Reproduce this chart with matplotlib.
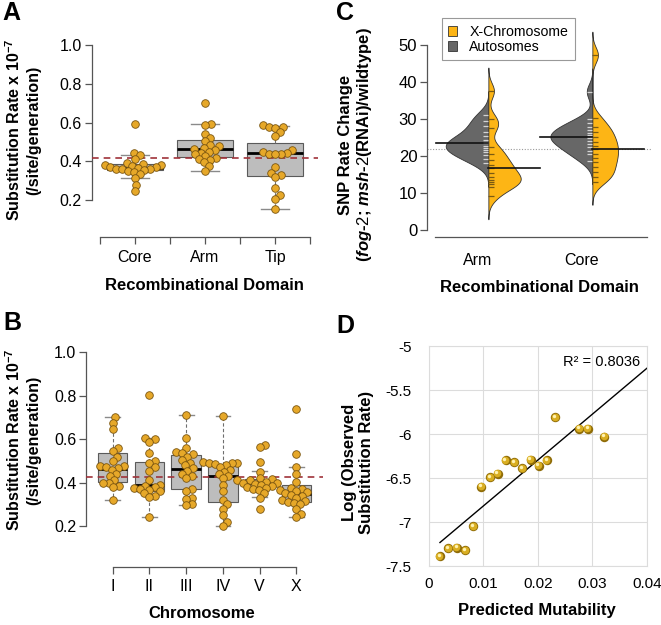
import numpy as np
import matplotlib
matplotlib.use('Agg')
import matplotlib.pyplot as plt
from matplotlib.patches import Patch
from matplotlib.transforms import offset_copy

plt.rcParams['font.family'] = ['Liberation Sans', 'DejaVu Sans']
plt.rcParams['mathtext.fontset'] = 'custom'
plt.rcParams['mathtext.rm'] = 'Liberation Sans'
plt.rcParams['mathtext.bf'] = 'Liberation Sans:bold'
plt.rcParams['mathtext.it'] = 'Liberation Sans:bold:italic'

# ---- Panel A: rate per recombinational domain
domains = ['Core', 'Arm', 'Tip']
core_rates = [0.59, 0.445, 0.43, 0.41, 0.39, 0.385, 0.38, 0.38, 0.375, 0.37, 0.37,
              0.365, 0.36, 0.36, 0.36, 0.355, 0.35, 0.345, 0.335, 0.315, 0.275, 0.245]
arm_rates = [0.70, 0.59, 0.585, 0.54, 0.52, 0.505, 0.485, 0.48, 0.47, 0.465, 0.46,
             0.45, 0.445, 0.435, 0.425, 0.415, 0.41, 0.405, 0.395, 0.375, 0.35]
tip_rates = [0.585, 0.575, 0.575, 0.57, 0.55, 0.53, 0.458, 0.448, 0.442, 0.44,
             0.44, 0.44, 0.37, 0.34, 0.328, 0.318, 0.26, 0.225, 0.205, 0.152]
dom_q1 = [0.355, 0.42, 0.322]
dom_med = [0.365, 0.465, 0.441]
dom_q3 = [0.386, 0.51, 0.496]
dom_lo = [0.315, 0.35, 0.152]
dom_hi = [0.43, 0.59, 0.584]
mean_rate_a = 0.418

# ---- Panel B: rate per chromosome
chroms = ['I', 'II', 'III', 'IV', 'V', 'X']
chr_I = [0.70, 0.675, 0.645, 0.56, 0.545, 0.52, 0.50, 0.478, 0.475, 0.47, 0.465,
         0.46, 0.44, 0.43, 0.41, 0.40, 0.40, 0.385, 0.38, 0.32]
chr_II = [0.805, 0.605, 0.60, 0.585, 0.535, 0.50, 0.49, 0.47, 0.455, 0.41, 0.39,
          0.385, 0.38, 0.375, 0.37, 0.365, 0.36, 0.35, 0.34, 0.335, 0.24]
chr_III = [0.71, 0.605, 0.56, 0.54, 0.535, 0.53, 0.52, 0.505, 0.49, 0.48, 0.465,
           0.455, 0.44, 0.43, 0.42, 0.37, 0.36, 0.33, 0.325, 0.30, 0.295]
chr_IV = [0.705, 0.495, 0.49, 0.49, 0.488, 0.485, 0.48, 0.47, 0.46, 0.45, 0.44,
          0.43, 0.42, 0.39, 0.36, 0.32, 0.30, 0.28, 0.25, 0.22, 0.20]
chr_V = [0.575, 0.565, 0.495, 0.45, 0.42, 0.415, 0.41, 0.41, 0.405, 0.40, 0.40,
         0.395, 0.39, 0.385, 0.38, 0.375, 0.37, 0.365, 0.35, 0.33, 0.28]
chr_X = [0.74, 0.53, 0.47, 0.44, 0.405, 0.375, 0.37, 0.365, 0.36, 0.355, 0.35,
         0.345, 0.34, 0.33, 0.32, 0.315, 0.31, 0.305, 0.30, 0.28, 0.255, 0.24]
chr_q1 = [0.404, 0.362, 0.37, 0.31, 0.37, 0.31]
chr_med = [0.462, 0.39, 0.461, 0.43, 0.40, 0.346]
chr_q3 = [0.535, 0.493, 0.526, 0.479, 0.415, 0.387]
chr_lo = [0.32, 0.24, 0.297, 0.20, 0.332, 0.24]
chr_hi = [0.70, 0.604, 0.71, 0.705, 0.455, 0.47]
mean_rate_b = 0.426

# ---- Panel C: SNP rate change, split violins
c_domains = ['Arm', 'Core']
arm_auto = [31.2, 29.5, 28.0, 26.5, 25.4, 24.3, 23.8, 23.4, 22.8, 22.2, 21.6, 21.0, 20.2, 19.3, 18.0]
arm_xchr = [37.6, 29.9, 27.7, 22.3, 20.5, 18.9, 17.5, 16.7, 15.3, 14.4, 13.5, 13.0, 12.4, 11.7, 9.2]
core_auto = [37.4, 29.9, 28.8, 27.8, 27.0, 26.3, 25.6, 25.2, 24.8, 24.1, 23.2, 22.5, 21.4, 20.5, 18.7]
core_xchr = [47.3, 30.2, 27.8, 26.6, 25.2, 23.9, 22.7, 21.9, 20.5, 19.4, 18.5, 16.9, 15.8, 14.4, 13.1]
c_ref = 21.8

# ---- Panel D: predicted mutability vs observed rate
mutability = [0.0021, 0.0036, 0.0052, 0.0067, 0.0082, 0.0097, 0.0113, 0.0127, 0.0141,
              0.0157, 0.0172, 0.0187, 0.0202, 0.0217, 0.0232, 0.0276, 0.0292, 0.0322]
log_rate = [-7.39, -7.30, -7.29, -7.32, -7.05, -6.60, -6.49, -6.45, -6.30,
            -6.32, -6.39, -6.29, -6.36, -6.30, -5.81, -5.94, -5.94, -6.03]

W, H = 661, 625
fig = plt.figure(figsize=(W / 100, H / 100), dpi=100)


def add_ax(x0, y0, x1, y1):
    return fig.add_axes([x0 / W, 1 - y1 / H, (x1 - x0) / W, (y1 - y0) / H])


def ftext(x, y, s, **kw):
    return fig.text(x / W, 1 - y / H, s, **kw)


dot_face = '#E6A829'
dot_edge = '#7a5510'
box_face = '#bdbdbd'
axis_col = '#555555'
orange = '#FDB515'
dgray = '#676767'


def swarm_x(ax, xc, vals, d_px):
    tr = ax.transData
    x0 = tr.transform((xc, 0))[0]
    ypx = np.array([tr.transform((xc, v))[1] for v in vals])
    order = np.argsort(vals)
    px_, py_ = [], []
    out = np.zeros(len(vals))
    for i in order:
        y = ypx[i]
        cands = [0.0]
        for a, b in zip(px_, py_):
            dy = abs(b - y)
            if dy < d_px:
                dx = np.sqrt(d_px ** 2 - dy ** 2)
                cands += [a + dx, a - dx]
        cands.sort(key=abs)
        pick = cands[-1]
        for c in cands:
            if all((c - a) ** 2 + (y - b) ** 2 >= d_px ** 2 - 1e-6 for a, b in zip(px_, py_)):
                pick = c
                break
        px_.append(pick)
        py_.append(y)
        out[i] = pick
    inv = tr.inverted()
    return [inv.transform((x0 + c, ypx[i]))[0] for i, c in enumerate(out)]


def box_panel(ax, groups, q1, med, q3, lo, hi, mean_line):
    stats = [dict(med=m, q1=a, q3=b, whislo=l, whishi=h, fliers=[])
             for m, a, b, l, h in zip(med, q1, q3, lo, hi)]
    pos = np.arange(1, len(groups) + 1)
    ax.bxp(stats, positions=pos, widths=0.8, patch_artist=True, showfliers=False,
           manage_ticks=False,
           boxprops=dict(facecolor=box_face, edgecolor='#5a5a5a', linewidth=0.8),
           medianprops=dict(color='black', linewidth=2.0),
           whiskerprops=dict(color='#6e6e6e', linestyle=(0, (3, 2)), linewidth=0.8),
           capprops=dict(color='#8a8a8a', linewidth=1.0))
    ax.axhline(mean_line, color='#A0323A', linestyle=(0, (4, 3)), linewidth=1.2, zorder=3)
    for p, g in zip(pos, groups):
        xs = swarm_x(ax, p, g, 6.0)
        ax.scatter(xs, g, s=30, facecolor=dot_face, edgecolor=dot_edge, linewidth=0.6, zorder=4)
    ax.spines['top'].set_visible(False)
    ax.spines['right'].set_visible(False)
    for sp in ['left', 'bottom']:
        ax.spines[sp].set_color(axis_col)
        ax.spines[sp].set_linewidth(0.9)
    ax.spines['left'].set_bounds(0.2, 1.0)
    ax.set_yticks([0.2, 0.4, 0.6, 0.8, 1.0])
    ax.set_yticklabels(['0.2', '0.4', '0.6', '0.8', '1.0'])
    ax.tick_params(axis='y', length=5, width=0.9, color=axis_col, pad=2, labelsize=11.5)
    ax.patch.set_visible(False)


# ---------------- A
axA = add_ax(91.6, 37.3, 318.4, 215.5)
axA.set_xlim(0.38, 3.62)
axA.set_ylim(0.12, 1.04)
box_panel(axA, [core_rates, arm_rates, tip_rates], dom_q1, dom_med, dom_q3, dom_lo, dom_hi, mean_rate_a)
axA.spines['bottom'].set_position(('outward', 15.5))
axA.spines['bottom'].set_bounds(0.5, 3.5)
axA.set_xticks(np.arange(0.5, 3.51, 0.5))
axA.set_xticklabels(['', domains[0], '', domains[1], '', domains[2], ''])
axA.tick_params(axis='x', length=5, width=0.9, color=axis_col, pad=4, labelsize=11.5)

# ---------------- B
axB = add_ax(86, 343.6, 323.4, 543.4)
axB.set_xlim(0.27, 6.74)
axB.set_ylim(0.12, 1.04)
box_panel(axB, [chr_I, chr_II, chr_III, chr_IV, chr_V, chr_X], chr_q1, chr_med, chr_q3, chr_lo, chr_hi, mean_rate_b)
axB.spines['bottom'].set_position(('outward', 16.8))
axB.spines['bottom'].set_bounds(1, 6)
axB.set_xticks(np.arange(1, 7))
axB.set_xticklabels(chroms)
axB.tick_params(axis='x', length=5, width=0.9, color=axis_col, pad=4, labelsize=11.5)

ylab_ab = 'Substitution Rate x 10$^{\\mathbf{-7}}$\n(/site/generation)'
ftext(22.5, 130, ylab_ab, rotation=90, ha='center', va='center', fontsize=11.5,
      fontweight='bold', multialignment='center', linespacing=1.25)
ftext(22.5, 440, ylab_ab, rotation=90, ha='center', va='center', fontsize=11.5,
      fontweight='bold', multialignment='center', linespacing=1.25)
ftext(204, 285, 'Recombinational Domain', ha='center', va='center', fontsize=12, fontweight='bold')
ftext(201.7, 613, 'Chromosome', ha='center', va='center', fontsize=12, fontweight='bold')

# ---------------- C
axC = add_ax(427, 19.1, 650.6, 237.4)
axC.set_xlim(0.51, 2.66)
axC.set_ylim(-2, 57)
bw = 2.1
shift = 0.1
halves = [(1 + shift, arm_auto, -1, dgray), (1 + shift, arm_xchr, 1, orange),
          (2 + shift, core_auto, -1, dgray), (2 + shift, core_xchr, 1, orange)]
dens_list = []
for cx, vals, side, col in halves:
    v = np.array(vals)
    ys = np.linspace(v.min() - 3 * bw, v.max() + 3 * bw, 400)
    d = np.exp(-0.5 * ((ys[:, None] - v[None, :]) / bw) ** 2).sum(1) / (len(v) * bw * np.sqrt(2 * np.pi))
    dens_list.append((ys, d))
scale = 0.41 / max(d.max() for _, d in dens_list)
axC.axhline(c_ref, color='#9a9a9a', linestyle=(0, (1, 1.5)), linewidth=0.8, zorder=0.5)
for (cx, vals, side, col), (ys, d) in zip(halves, dens_list):
    w = d * scale
    if side < 0:
        axC.fill_betweenx(ys, cx - w, cx, facecolor=col, edgecolor='#333333', linewidth=0.6, zorder=2)
        axC.hlines(vals, cx - 0.055, cx, color='#d4d4d4', linewidth=0.9, zorder=3)
        axC.plot([cx - 0.5, cx], [np.median(vals)] * 2, color='#111111', linewidth=1.2, zorder=4)
    else:
        axC.fill_betweenx(ys, cx, cx + w, facecolor=col, edgecolor='#333333', linewidth=0.6, zorder=2)
        axC.hlines(vals, cx, cx + 0.05, color='#7a5a12', linewidth=0.9, zorder=3)
        axC.plot([cx, cx + 0.5], [np.median(vals)] * 2, color='#111111', linewidth=1.2, zorder=4)
axC.spines['top'].set_visible(False)
axC.spines['right'].set_visible(False)
for sp in ['left', 'bottom']:
    axC.spines[sp].set_color(axis_col)
    axC.spines[sp].set_linewidth(0.9)
axC.spines['left'].set_bounds(0, 50)
axC.spines['bottom'].set_bounds(0.59, 2.63)
axC.set_yticks(np.arange(0, 51, 10))
axC.tick_params(axis='y', length=5, width=0.9, color=axis_col, pad=2, labelsize=12)
axC.set_xticks([1, 2])
axC.set_xticklabels(c_domains)
axC.tick_params(axis='x', length=0, pad=11, labelsize=11.5)
axC.patch.set_visible(False)
leg = axC.legend(handles=[Patch(facecolor=orange, edgecolor='#333333', linewidth=0.6, label='X-Chromosome'),
                          Patch(facecolor=dgray, edgecolor='#333333', linewidth=0.6, label='Autosomes')],
                 loc='upper left', bbox_to_anchor=(441.7 / W, 1 - 18.3 / H), bbox_transform=fig.transFigure,
                 borderaxespad=0, fontsize=10.2, frameon=True, fancybox=False, framealpha=1,
                 edgecolor='#999999', handlelength=0.6, handleheight=0.7, handletextpad=0.9,
                 labelspacing=0.1, borderpad=0.45)
leg.get_frame().set_linewidth(0.8)

ylab_c = 'SNP Rate Change\n($\\mathit{fog}$-$\\mathit{2}$; $\\mathit{msh}$-$\\mathit{2}$(RNAi)/wildtype)'
ftext(356, 145, ylab_c, rotation=90, ha='center', va='center', fontsize=12,
      fontweight='bold', multialignment='center', linespacing=1.2)
ftext(539, 287, 'Recombinational Domain', ha='center', va='center', fontsize=12, fontweight='bold')

# ---------------- D
axD = add_ax(428.5, 346, 647, 566)
axD.set_xlim(0, 0.04)
axD.set_ylim(-7.5, -5)
axD.set_xticks([0, 0.01, 0.02, 0.03, 0.04])
axD.set_xticklabels(['0', '0.01', '0.02', '0.03', '0.04'])
axD.set_yticks([-7.5, -7, -6.5, -6, -5.5, -5])
axD.set_yticklabels(['-7.5', '-7', '-6.5', '-6', '-5.5', '-5'])
axD.tick_params(length=0, labelsize=11)
axD.tick_params(axis='y', pad=12)
axD.tick_params(axis='x', pad=8)
axD.set_axisbelow(True)
axD.grid(color='#dcdcdc', linewidth=0.8)
for sp in axD.spines.values():
    sp.set_color('#dcdcdc')
    sp.set_linewidth(0.8)
mx = np.array(mutability)
ly = np.array(log_rate)
slope, icpt = np.polyfit(mx, ly, 1)
xl = np.array([mx.min(), 0.04])
axD.plot(xl, slope * xl + icpt, color='black', linewidth=1.0, zorder=2)
axD.scatter(mx, ly, s=46, color='#8f6c08', linewidth=0, zorder=3)
axD.scatter(mx, ly, s=30, color='#D9AE22', linewidth=0, zorder=4,
            transform=offset_copy(axD.transData, fig=fig, x=-0.4, y=0.4, units='points'))
axD.scatter(mx, ly, s=6, color='#FFF2B0', linewidth=0, zorder=5,
            transform=offset_copy(axD.transData, fig=fig, x=-1.0, y=1.0, units='points'))
axD.text(0.0387, -5.18, 'R² = 0.8036', ha='right', va='center', fontsize=10.5)
ftext(358, 462, 'Log (Observed\nSubstitution Rate)', rotation=90, ha='center', va='center',
      fontsize=12, fontweight='bold', multialignment='center', linespacing=1.2)
ftext(537, 610, 'Predicted Mutability', ha='center', va='center', fontsize=12, fontweight='bold')

# panel letters
for lx, lyy, s in [(2, 0.5, 'A'), (3, 310.5, 'B'), (336, 0.5, 'C'), (336, 313.5, 'D')]:
    ftext(lx, lyy, s, ha='left', va='top', fontsize=18, fontweight='bold')

fig.savefig('out.png', dpi=100)
